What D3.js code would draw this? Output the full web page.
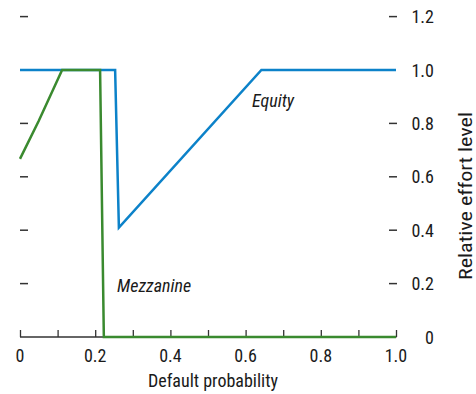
<!DOCTYPE html>
<html><head><meta charset="utf-8">
<script src="https://cdn.jsdelivr.net/npm/d3@7"></script>
<style>
body{margin:0;background:#fff;}
text{font-family:"Liberation Sans Narrow","Roboto Condensed","DejaVu Sans Condensed",sans-serif;fill:#1a1a1a;}
</style></head>
<body><svg id="c" width="476" height="394"></svg>
<script>
const equityX = [0, 0.253, 0.263, 0.642, 1.0];
const equityY = [1.0, 1.0, 0.41, 1.0, 1.0];
const mezzX = [0, 0.05, 0.112, 0.213, 0.223, 1.0];
const mezzY = [0.667, 0.81, 1.0, 1.0, 0.0, 0.0];
const xTicks = [0, 0.1, 0.2, 0.3, 0.4, 0.5, 0.6, 0.7, 0.8, 0.9, 1.0];
const xTickLabels = ["0", "", "0.2", "", "0.4", "", "0.6", "", "0.8", "", "1.0"];
const yTicks = [0, 0.2, 0.4, 0.6, 0.8, 1.0, 1.2];
const yTickLabels = ["0", "0.2", "0.4", "0.6", "0.8", "1.0", "1.2"];

const svg = d3.select("#c");
const x = d3.scaleLinear().domain([0, 1]).range([20, 396]);
const y = d3.scaleLinear().domain([0, 1.2]).range([337, 16.6]);
const FS = 18;

// x axis
const xAxis = d3.axisTop(x).tickValues(xTicks).tickSize(7).tickFormat("");
const gx = svg.append("g").attr("transform", "translate(0," + y(0) + ")").call(xAxis);
gx.select(".domain").attr("stroke", "#333").attr("stroke-width", 1.5).attr("d", "M" + x(0) + ",0H" + (x(1)+0.5));
gx.selectAll(".tick line").attr("stroke", "#333").attr("stroke-width", 1.3);
svg.append("g").selectAll("text").data(xTicks).join("text")
  .attr("x", d => x(d)).attr("y", 362).attr("text-anchor", "middle")
  .attr("font-size", FS).text((d, i) => xTickLabels[i]);

// left dashes
const yDash = yTicks.filter(d => d > 0 && d !== 1.0);
svg.append("g").selectAll("line").data(yDash).join("line")
  .attr("x1", x(0)).attr("x2", x(0) + 8).attr("y1", d => y(d)).attr("y2", d => y(d))
  .attr("stroke", "#333").attr("stroke-width", 1.5);
// right dashes
svg.append("g").selectAll("line").data(yDash).join("line")
  .attr("x1", x(1) - 7).attr("x2", x(1) + 1).attr("y1", d => y(d)).attr("y2", d => y(d))
  .attr("stroke", "#333").attr("stroke-width", 1.5);
// right labels
svg.append("g").selectAll("text").data(yTicks).join("text")
  .attr("x", 434).attr("y", d => y(d) + 6.5).attr("text-anchor", "end")
  .attr("font-size", FS).text((d, i) => yTickLabels[i]);

// lines
const line = d3.line().x(d => x(d[0])).y(d => y(d[1]));
svg.append("path").datum(equityX.map((v, i) => [v, equityY[i]]))
  .attr("d", line).attr("fill", "none").attr("stroke", "#0c82c9").attr("stroke-width", 2.5)
  .attr("stroke-linejoin", "miter");
svg.append("path").datum(mezzX.map((v, i) => [v, mezzY[i]]))
  .attr("d", line).attr("fill", "none").attr("stroke", "#3a8a2f").attr("stroke-width", 2.5);

// labels
svg.append("text").attr("x", 252).attr("y", 107).attr("font-size", FS).attr("font-style", "italic").text("Equity");
svg.append("text").attr("x", 117).attr("y", 292).attr("font-size", FS).attr("font-style", "italic").text("Mezzanine");
svg.append("text").attr("x", 213).attr("y", 387).attr("text-anchor", "middle").attr("font-size", FS).text("Default probability");
svg.append("text").attr("transform", "translate(472,196) rotate(-90)").attr("text-anchor", "middle")
  .attr("font-size", FS).attr("textLength", 168).attr("lengthAdjust", "spacingAndGlyphs").text("Relative effort level");
</script></body></html>
